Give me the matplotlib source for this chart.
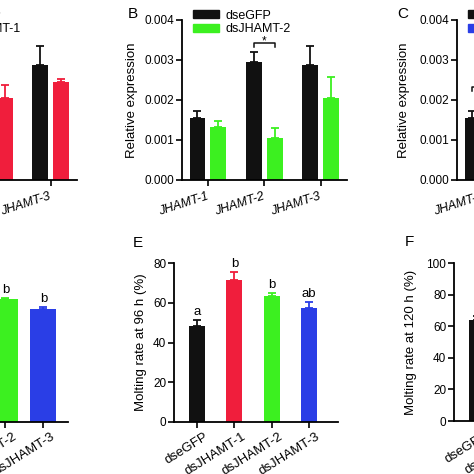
import numpy as np
import matplotlib
matplotlib.use("Agg")
import matplotlib.pyplot as plt
import matplotlib.transforms as mtransforms
from matplotlib.patches import Patch

plt.rcParams['font.family'] = ['Liberation Sans', 'DejaVu Sans']

W, H = 474, 474

genes = ['JHAMT-1', 'JHAMT-2', 'JHAMT-3']
treatments = ['dseGFP', 'dsJHAMT-1', 'dsJHAMT-2', 'dsJHAMT-3']

# top row: relative expression (control shared by all panels)
ctrl_mean = [0.00155, 0.00295, 0.00288]
ctrl_err = [0.00018, 0.00025, 0.00047]
a_mean = [0.00080, 0.00205, 0.00245]
a_err = [0.00015, 0.00033, 0.00008]
b_mean = [0.00133, 0.00104, 0.00205]
b_err = [0.00015, 0.00027, 0.00053]
c_mean = [0.00070, 0.00230, 0.00100]
c_err = [0.00012, 0.00030, 0.00020]

# bottom row: molting rates
d_mean = [45.0, 66.0, 61.8, 56.8]
d_err = [2.0, 3.0, 0.6, 1.0]
d_sig = ['a', 'b', 'b', 'b']
e_mean = [48.2, 71.4, 63.5, 57.6]
e_err = [3.0, 4.1, 1.6, 2.8]
e_sig = ['a', 'b', 'b', 'ab']
f_mean = [63.7, 85.0, 80.0, 76.0]
f_err = [2.5, 3.0, 2.0, 2.5]
f_sig = ['a', 'b', 'b', 'b']

BLACK = '#111111'
RED = '#f01e3c'
GREEN = '#3cf020'
BLUE = '#2a3ee6'

fig = plt.figure(figsize=(W / 100, H / 100), dpi=100)


def px_axes(left, top, right, bottom):
    return fig.add_axes([left / W, 1 - bottom / H, (right - left) / W, (bottom - top) / H])


def style(ax):
    for s in ['top', 'right']:
        ax.spines[s].set_visible(False)
    for s in ['left', 'bottom']:
        ax.spines[s].set_linewidth(1.3)
    ax.tick_params(direction='out', length=4, width=1.2, labelsize=8.5, pad=1.5)


def xlabels(ax, x, labels, dx, dy, rot, **kw):
    # tick labels drawn as text so they can sit a few pixels off the tick
    ax.set_xticks(x)
    ax.set_xticklabels([])
    tr = mtransforms.blended_transform_factory(ax.transData, ax.transAxes) + \
        mtransforms.ScaledTranslation(dx / 100, -dy / 100, fig.dpi_scale_trans)
    for xi, lab in zip(x, labels):
        ax.text(xi, 0, lab, transform=tr, rotation=rot, ha='right', va='top',
                rotation_mode='anchor', clip_on=False, **kw)


def expr_panel(left, mean2, err2, col, lab, lab_x):
    ax = px_axes(left, 20, left + 165, 180)
    style(ax)
    x = np.arange(3)
    off, w = 0.185, 0.28
    ax.bar(x - off, ctrl_mean, w, color=BLACK, zorder=2)
    ax.errorbar(x - off, ctrl_mean, yerr=[np.zeros(3), ctrl_err], fmt='none',
                ecolor=BLACK, elinewidth=1.3, capsize=3, capthick=1.3)
    ax.bar(x + off, mean2, w, color=col, zorder=2)
    ax.errorbar(x + off, mean2, yerr=[np.zeros(3), err2], fmt='none',
                ecolor=col, elinewidth=1.3, capsize=3, capthick=1.3)
    ax.set_xlim(-0.46, 2.47)
    ax.set_ylim(0, 0.004)
    ax.set_yticks([0, 0.001, 0.002, 0.003, 0.004])
    ax.set_yticklabels(['0.000', '0.001', '0.002', '0.003', '0.004'])
    xlabels(ax, x, genes, -2, 10, 18, style='italic', fontsize=9)
    ax.set_ylabel('Relative expression', fontsize=9.5)
    ax.yaxis.set_label_coords(lab_x, 0.5)
    ax.spines['left'].set_bounds(0, 0.004)
    handles = [Patch(color=BLACK, label='dseGFP'), Patch(color=col, label=lab)]
    ax.legend(handles=handles, loc='upper left', bbox_to_anchor=(0.065, 1.065),
              frameon=False, fontsize=9, handlelength=2.1, handleheight=0.6,
              labelspacing=0.12, handletextpad=0.5, borderpad=0, borderaxespad=0)
    return ax


def bracket(ax, x1, x2, y, h, text):
    ax.plot([x1, x1, x2, x2], [y - h, y, y, y - h], color=BLACK, lw=1.1, clip_on=False)
    ax.text((x1 + x2) / 2, y - h * 0.5, text, ha='center', va='baseline', fontsize=8.5)


axA = expr_panel(-88, a_mean, a_err, RED, 'dsJHAMT-1', -0.267)
axB = expr_panel(182, b_mean, b_err, GREEN, 'dsJHAMT-2', -0.267)
axC = expr_panel(457, c_mean, c_err, BLUE, 'dsJHAMT-3', -0.285)
bracket(axB, 1 - 0.185, 1 + 0.185, 0.00343, 0.0001, '*')
bracket(axC, 0 - 0.185, 0 + 0.185, 0.00232, 0.0001, '*')


def molt_panel(left, right, top, bottom, mean, err, sig, ylim, label, lab_x,
               width, xlim):
    ax = px_axes(left, top, right, bottom)
    style(ax)
    x = np.arange(4)
    cols = [BLACK, RED, GREEN, BLUE]
    ax.bar(x, mean, width, color=cols, zorder=2)
    for i in range(4):
        ax.errorbar(x[i], mean[i], yerr=[[0], [err[i]]], fmt='none', ecolor=cols[i],
                    elinewidth=1.3, capsize=3, capthick=1.3)
        ax.text(x[i], mean[i] + err[i] + ylim * 0.012, sig[i], ha='center',
                va='bottom', fontsize=9.5)
    ax.set_xlim(*xlim)
    ax.set_ylim(0, ylim)
    ax.set_yticks(np.arange(0, ylim + 1, 20))
    ax.spines['left'].set_bounds(0, ylim)
    xlabels(ax, x, treatments, 7, 9, 32, fontsize=9.5)
    ax.set_ylabel(label, fontsize=9.5)
    ax.yaxis.set_label_coords(lab_x, 0.5)
    return ax


molt_panel(-101, 68, 263, 422, d_mean, d_err, d_sig, 80,
           'Molting rate at 72 h (%)', -0.2, 0.68, (-0.8, 3.65))
molt_panel(174, 338, 263, 422, e_mean, e_err, e_sig, 80,
           'Molting rate at 96 h (%)', -0.165, 0.43, (-0.62, 3.78))
molt_panel(454, 618, 263, 421, f_mean, f_err, f_sig, 100,
           'Molting rate at 120 h (%)', -0.226, 0.43, (-0.62, 3.78))

for letter, px, py in [('B', 128, 18), ('C', 397, 18), ('E', 133, 247), ('F', 405, 246)]:
    fig.text(px / W, 1 - py / H, letter, fontsize=11, va='baseline', ha='left')

fig.savefig('out.png', dpi=100)
